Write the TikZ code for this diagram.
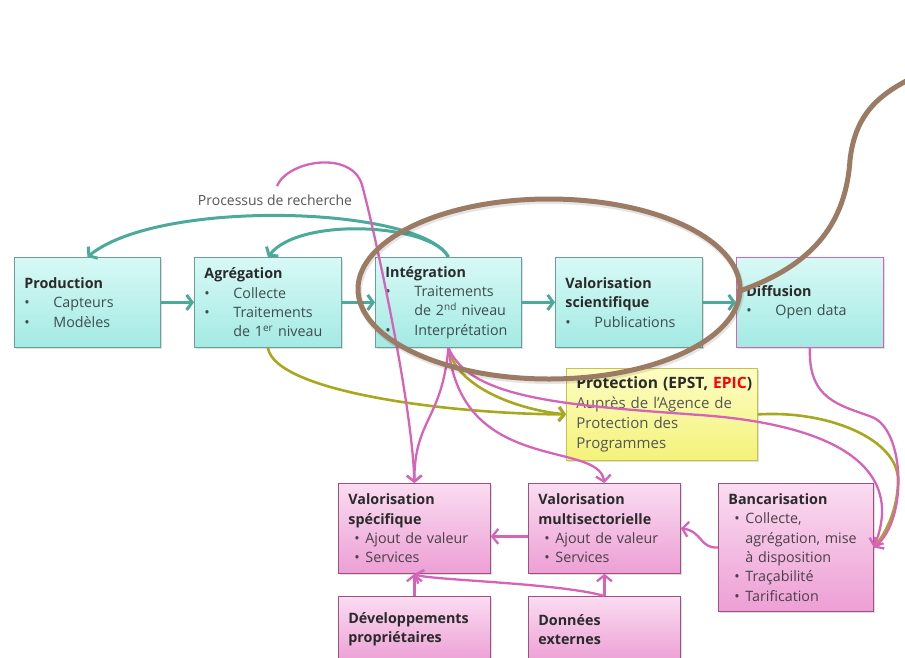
\documentclass[tikz,border=0pt]{standalone}
\usepackage{fontspec}
\setmainfont{Open Sans}
\usetikzlibrary{arrows.meta,shadows,calc}
\definecolor{tealc}{HTML}{4BAA99}
\definecolor{olivec}{HTML}{A8A81E}
\definecolor{pinkc}{HTML}{D564B8}
\definecolor{brownc}{HTML}{9B7B63}
\definecolor{ctop}{HTML}{D8F9F6}
\definecolor{cbot}{HTML}{A3EAE3}
\definecolor{cbord}{HTML}{6A9E98}
\definecolor{ptop}{HTML}{FADCF1}
\definecolor{pbot}{HTML}{ED9FD5}
\definecolor{pbord}{HTML}{9E5080}
\definecolor{ytop}{HTML}{FDFDC4}
\definecolor{ybot}{HTML}{F3F27A}
\definecolor{ybord}{HTML}{C4C44A}
\definecolor{titlec}{HTML}{2A2A2A}
\definecolor{bodyc}{HTML}{3E4C4C}
\definecolor{pbodyc}{HTML}{4A4048}
\definecolor{graytxt}{HTML}{555555}
\newcommand\tb[1]{\mbox{\textbf{\color{titlec}#1}}}
\newcommand\titem[1]{\makebox[29pt][l]{\hspace{0pt}\textbullet}\mbox{#1}}
\newcommand\tcont[1]{\hspace*{29pt}\mbox{#1}}
\newcommand\pitem[1]{\makebox[17pt][l]{\hspace{6pt}\textbullet}\mbox{#1}}
\newcommand\pcont[1]{\hspace*{17pt}\mbox{#1}}
\begin{document}
\begin{tikzpicture}[x=1pt,y=-1pt,
  boxbase/.style={draw, line width=0.8pt, anchor=north west, inner xsep=10pt, inner ysep=0pt,
    align=left, font=\fontsize{14.3}{19.3}\selectfont,
    drop shadow={shadow xshift=1.5pt,shadow yshift=-1.5pt,opacity=.25}},
  cbox/.style={boxbase, draw=cbord, top color=ctop, bottom color=cbot, text=bodyc},
  pbox/.style={boxbase, draw=pbord, top color=ptop, bottom color=pbot, text=pbodyc},
  ybox/.style={boxbase, inner xsep=10pt, draw=ybord, top color=ytop, bottom color=ybot, text=graytxt,
    font=\fontsize{15}{19.8}\selectfont},
  tealarr/.style={draw=tealc, line width=3pt, -{Straight Barb[length=5.5pt,width=15pt]}},
  olivearr/.style={draw=olivec, line width=2.6pt, -{Straight Barb[length=5.5pt,width=14pt]}},
  oliveline/.style={draw=olivec, line width=2.6pt},
  pinkarr/.style={draw=pinkc, line width=2.3pt, -{Straight Barb[length=6pt,width=15pt]}},
  brownline/.style={draw=brownc, line width=5pt}
]
\useasboundingbox (0,0) rectangle (905,657);
\fill[white] (0,0) rectangle (905,657);

% ---- top row ----
\node[cbox, minimum width=146pt, minimum height=90pt, text width=126pt] (prod) at (14,257)
  {\tb{Production}\\ \titem{Capteurs}\\ \titem{Modèles}};
\node[cbox, minimum width=147pt, minimum height=90pt, text width=127pt] (agr) at (194,257)
  {\tb{Agrégation}\\ \titem{Collecte}\\ \titem{Traitements}\\ \tcont{de 1\textsuperscript{er} niveau}};
\node[cbox, minimum width=146pt, minimum height=90pt, text width=126pt] (integ) at (375,257)
  {\tb{Intégration}\\ \titem{Traitements}\\ \tcont{de 2\textsuperscript{nd} niveau}\\ \titem{Interprétation}};
\node[cbox, minimum width=147pt, minimum height=90pt, text width=127pt] (valsci) at (555,257)
  {\tb{Valorisation}\\ \tb{scientifique}\\ \titem{Publications}};
\node[cbox, draw=pinkc, minimum width=147pt, minimum height=90pt, text width=127pt] (diff) at (736,257)
  {\tb{Diffusion}\\ \titem{Open data}};

% ---- protection ----
\node[ybox, minimum width=191pt, minimum height=92pt, text width=171pt] (prot) at (566,368)
  {\tb{\fontsize{15.6}{19.8}\selectfont Protection (EPST, \textcolor{red}{EPIC})}\\ Auprès de l’Agence de\\ Protection des\\ Programmes};

% ---- bottom ----
\node[pbox, minimum width=152pt, minimum height=90pt, text width=132pt] (vspec) at (338,483)
  {\tb{Valorisation}\\ \tb{spécifique}\\ \pitem{Ajout de valeur}\\ \pitem{Services}};
\node[pbox, minimum width=152pt, minimum height=90pt, text width=132pt] (vmulti) at (528,483)
  {\tb{Valorisation}\\ \tb{multisectorielle}\\ \pitem{Ajout de valeur}\\ \pitem{Services}};
\node[pbox, minimum width=155pt, minimum height=128pt, text width=135pt] (banc) at (718,483)
  {\tb{Bancarisation}\\ \pitem{Collecte,}\\ \pcont{agrégation, mise}\\ \pcont{à disposition}\\ \pitem{Traçabilité}\\ \pitem{Tarification}};
\node[pbox, minimum width=152pt, minimum height=66pt, text width=132pt] (dpro) at (338,596)
  {\tb{Développements}\\ \tb{propriétaires}};
\node[pbox, minimum width=152pt, minimum height=66pt, text width=132pt] (donn) at (528,596)
  {\tb{Données}\\ \tb{externes}};

\node[font=\fontsize{14}{18}\selectfont, text=graytxt] (proc) at (275,200) {Processus de recherche};
\coordinate (pstart) at (277,186);

% ---- teal ----
\draw[tealarr] (prod.east) -- (agr.west);
\draw[tealarr] (agr.east) -- (integ.west);
\draw[tealarr] (integ.east) -- (valsci.west);
\draw[tealarr] (valsci.east) -- (diff.west);
\draw[tealarr] (integ.north) .. controls (420,206) and (160,198) .. (prod.north);
\draw[tealarr] (integ.north) .. controls (432,224) and (300,216) .. (agr.north);

% ---- olive ----
\draw[olivearr] (agr.south) .. controls (275,392) and (450,414) .. (prot.west);
\draw[olivearr] (integ.south) .. controls (456,388) and (520,410) .. (prot.west);
\draw[oliveline] (prot.east) .. controls (830,410) and (898,440) .. (898,480) .. controls (898,510) and (885,535) .. (banc.east);

% ---- pink ----
\draw[pinkarr] (pstart) .. controls (288,160) and (352,150) .. (362,185) .. controls (372,220) and (412,400) .. (vspec.north);
\draw[pinkarr] (integ.south) .. controls (442,420) and (414,420) .. (vspec.north);
\draw[pinkarr] (integ.south) .. controls (462,475) and (598,440) .. (vmulti.north);
\draw[pinkarr] (integ.south) .. controls (470,398) and (560,405) .. (700,415) .. controls (840,425) and (905,470) .. (banc.east);
\draw[pinkarr] (diff.south) .. controls (808,400) and (840,405) .. (872,417) .. controls (905,430) and (908,520) .. (banc.east);
\draw[pinkarr] (banc.west) .. controls (700,549) and (702,531) .. (vmulti.east);
\draw[pinkarr] ($(vmulti.west)+(0,8)$) -- ($(vspec.east)+(0,8)$);
\draw[pinkarr] (dpro.north) -- (vspec.south);
\draw[pinkarr] (donn.north) -- (vmulti.south);
\draw[pinkarr] (donn.north) .. controls (560,583) and (428,580) .. (vspec.south);

% ---- brown ellipse + tail ----
\draw[draw=black, opacity=.1, line width=6pt] (550,291) ellipse [x radius=191pt, y radius=90pt];
\draw[brownline] (549,289) ellipse [x radius=191pt, y radius=90pt];
\draw[brownline] (737,292) .. controls (800,270) and (845,235) .. (850,160) .. controls (855,115) and (878,95) .. (912,78);
\end{tikzpicture}
\end{document}
